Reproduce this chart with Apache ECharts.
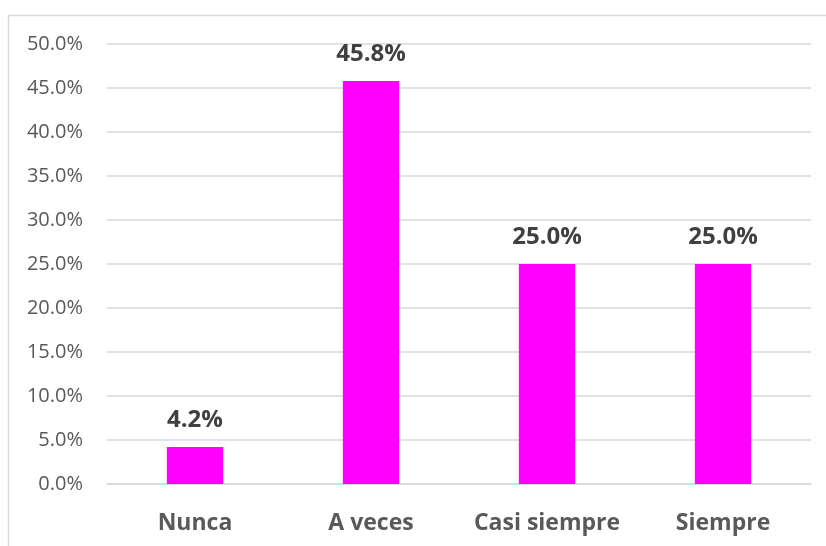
<!DOCTYPE html>
<html><head><meta charset="utf-8">
<script src="https://cdn.jsdelivr.net/npm/echarts@6/dist/echarts.min.js"></script>
<style>html,body{margin:0;padding:0;background:#fff}#c{width:826px;height:546px}</style>
</head><body><div id="c"></div>
<script>
const categories = ['Nunca', 'A veces', 'Casi siempre', 'Siempre'];
const values = [4.2, 45.8, 25.0, 25.0];
const yTicks = { min: 0, max: 50, interval: 5 };
const chart = echarts.init(document.getElementById('c'));
const FONT = '"Open Sans", "Noto Sans", sans-serif';
chart.setOption({
  animation: false,
  graphic: [{
    type: 'rect', shape: { x: 8.5, y: 15.5, width: 900, height: 700 },
    style: { fill: 'none', stroke: '#d9d9d9', lineWidth: 1.5 }, silent: true, z: -1
  }],
  grid: { left: 107, right: 15, top: 44, bottom: 62, containLabel: false },
  xAxis: {
    type: 'category', data: categories,
    axisLine: { show: true, lineStyle: { color: '#d9d9d9', width: 1.5 } },
    axisTick: { show: false },
    axisLabel: { interval: 0, hideOverlap: false, color: '#595959', fontFamily: FONT, fontWeight: 'bold', fontSize: 23, margin: 28 }
  },
  yAxis: {
    type: 'value', min: yTicks.min, max: yTicks.max, interval: yTicks.interval,
    axisLine: { show: false }, axisTick: { show: false },
    splitLine: { lineStyle: { color: '#d9d9d9', width: 1.5 } },
    axisLabel: { color: '#595959', fontFamily: FONT, fontSize: 20, margin: 24,
      formatter: v => v.toFixed(1) + '%' }
  },
  series: [{
    type: 'bar', data: values, barWidth: '32%',
    itemStyle: { color: '#ff00ff' },
    label: { show: true, position: 'top', distance: 15, color: '#404040',
      fontFamily: FONT, fontWeight: 'bold', fontSize: 24,
      formatter: p => p.value.toFixed(1) + '%' }
  }]
});
</script></body></html>
